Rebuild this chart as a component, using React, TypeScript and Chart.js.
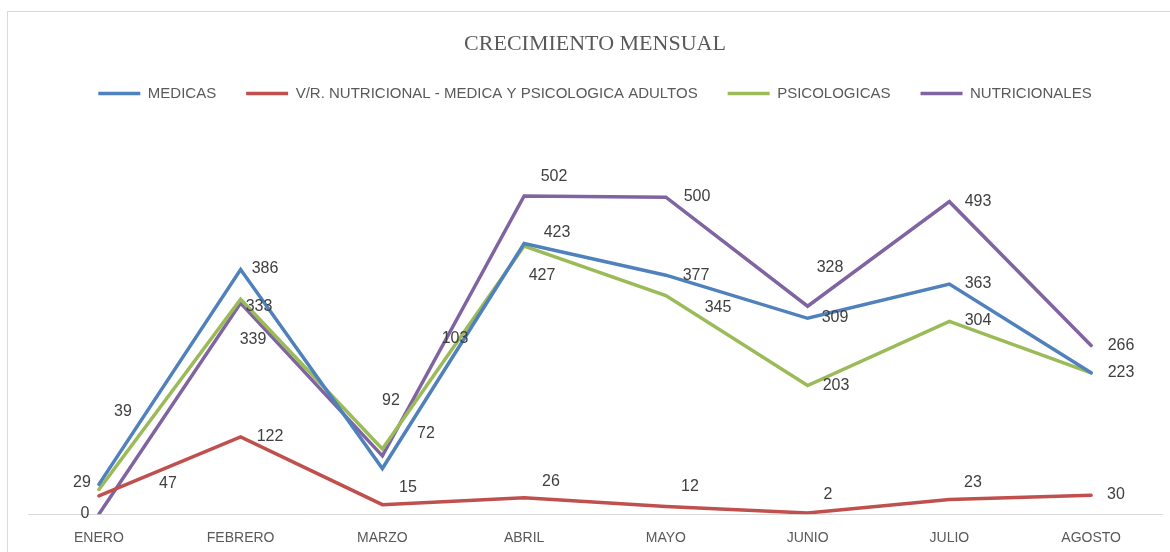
import React, { useEffect, useRef } from "react";
import { Chart, registerables } from "chart.js";

Chart.register(...registerables);

const categories = ["ENERO", "FEBRERO", "MARZO", "ABRIL", "MAYO", "JUNIO", "JULIO", "AGOSTO"];
const medicas = [47, 386, 72, 427, 377, 309, 363, 223];
const vrNutricional = [29, 122, 15, 26, 12, 2, 23, 30];
const psicologicas = [39, 339, 103, 423, 345, 203, 304, 223];
const nutricionales = [0, 333, 92, 502, 500, 328, 493, 266];

const seriesNames = [
  "MEDICAS",
  "V/R. NUTRICIONAL - MEDICA Y PSICOLOGICA ADULTOS",
  "PSICOLOGICAS",
  "NUTRICIONALES",
];
const seriesColors = ["#4F81BD", "#C0504D", "#9BBB59", "#8064A2"];

// data-label offsets (dx, dy) from each point, in pixels
const labelOffsets: number[][][] = [
  [[69, 0], [24, 0], [44, -35], [18, 33], [30, 1], [27, 0], [29, 0], [30, 0]],
  [[-17, -13], [29, 0], [26, -17], [27, -16], [24, -20], [20, -18], [24, -17], [25, 0]],
  [[24, -77], [12, 41], [73, -110], [33, -13], [52, 13], [28, 0], [29, 0], [30, 0]],
  [[-14, 0], [18, 4], [9, -55], [30, -19], [31, 0], [22, -38], [29, 0], [30, 0]],
];

const borderPlugin = {
  id: "outerBorder",
  beforeDraw(chart: any) {
    const ctx = chart.ctx;
    ctx.save();
    ctx.fillStyle = "#ffffff";
    ctx.fillRect(0, 0, chart.width, chart.height);
    ctx.strokeStyle = "#D9D9D9";
    ctx.lineWidth = 1;
    ctx.strokeRect(7.5, 11.5, chart.width + 20, chart.height + 20);
    ctx.restore();
  },
};

const dataLabelPlugin = {
  id: "dataLabels",
  afterDatasetsDraw(chart: any) {
    const ctx = chart.ctx;
    ctx.save();
    ctx.font = "16px 'Liberation Sans', Arial, sans-serif";
    ctx.fillStyle = "#404040";
    ctx.textAlign = "center";
    ctx.textBaseline = "middle";
    const drawn = new Set<string>();
    chart.data.datasets.forEach((ds: any, i: number) => {
      const meta = chart.getDatasetMeta(i);
      meta.data.forEach((pt: any, j: number) => {
        const off = labelOffsets[i][j];
        const x = Math.round(pt.x + off[0]);
        const y = Math.round(pt.y + off[1]);
        const key = `${ds.data[j]}@${x},${y}`;
        if (drawn.has(key)) return;
        drawn.add(key);
        ctx.fillText(String(ds.data[j]), x, y);
      });
    });
    ctx.restore();
  },
};

export default function App() {
  const canvasRef = useRef<HTMLCanvasElement | null>(null);

  useEffect(() => {
    if (!canvasRef.current) return;
    const allSeries = [medicas, vrNutricional, psicologicas, nutricionales];
    const chart = new Chart(canvasRef.current, {
      type: "line",
      data: {
        labels: categories,
        datasets: allSeries.map((d, i) => ({
          label: seriesNames[i],
          data: d,
          borderColor: seriesColors[i],
          backgroundColor: seriesColors[i],
          borderWidth: 3.5,
          borderCapStyle: "round",
          borderJoinStyle: "miter",
          pointRadius: 0,
          pointHoverRadius: 0,
          tension: 0,
          fill: false,
        })),
      },
      options: {
        animation: false,
        responsive: false,
        maintainAspectRatio: false,
        layout: { padding: { left: 28, right: 8, top: 0, bottom: -11 } },
        plugins: {
          title: {
            display: true,
            text: "CRECIMIENTO MENSUAL",
            color: "#595959",
            font: { family: "'Liberation Serif', serif", size: 22, weight: "normal" },
            padding: { top: 30.8, bottom: -1.2 },
          },
          legend: {
            display: true,
            position: "top",
            labels: {
              usePointStyle: true,
              pointStyle: "line",
              pointStyleWidth: 42,
              color: "#595959",
              padding: 30,
              font: { family: "'Liberation Sans', Arial, sans-serif", size: 15 },
            },
          },
          tooltip: { enabled: false },
        },
        scales: {
          x: {
            offset: true,
            grid: { display: false, drawTicks: false },
            border: { display: true, color: "#D9D9D9", width: 1 },
            ticks: {
              color: "#595959",
              padding: 16,
              font: { family: "'Liberation Sans', Arial, sans-serif", size: 14 },
            },
          },
          y: {
            display: false,
            min: 0,
            max: 636,
          },
        },
      },
      plugins: [borderPlugin, dataLabelPlugin],
    } as any);
    return () => chart.destroy();
  }, []);

  return (
    <div style={{ position: "fixed", left: 0, top: 0, width: 1170, height: 552, background: "#fff" }}>
      <canvas ref={canvasRef} width={1170} height={552} style={{ display: "block" }} />
    </div>
  );
}
